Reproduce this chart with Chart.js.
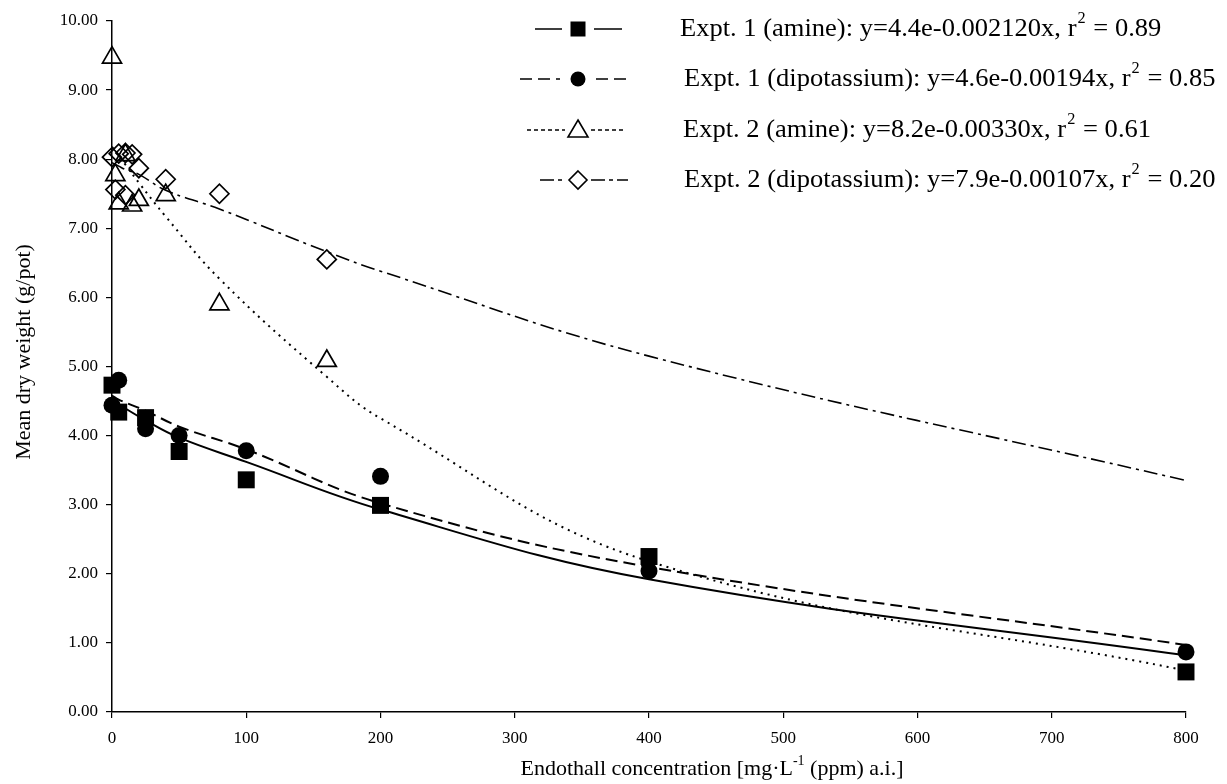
<!DOCTYPE html>
<html>
<head>
<meta charset="utf-8">
<script src="https://cdn.jsdelivr.net/npm/chart.js@4.4.1/dist/chart.umd.min.js"></script>
<style>
  html, body { margin: 0; padding: 0; background: #fff; }
  #wrap { width: 1227px; height: 784px; }
</style>
</head>
<body>
<div id="wrap"><canvas id="chart" width="1227" height="784"></canvas></div>
<script>
// measured points
var doses1 = [0, 5, 25, 50, 100, 200, 400, 800];
var amine1 = [4.73, 4.34, 4.26, 3.77, 3.36, 2.99, 2.25, 0.58];
var dipot1 = [4.44, 4.80, 4.10, 4.00, 3.78, 3.41, 2.04, 0.87];

var dosesAm2 = [0, 2.5, 5, 10, 15, 20, 40, 80, 160];
var amine2 = [9.47, 7.77, 7.36, 8.06, 7.33, 7.41, 7.48, 5.90, 5.08];
var dosesDi2 = [0, 2.5, 5, 10, 10, 15, 20, 40, 80, 160];
var dipot2 = [8.03, 7.56, 8.08, 8.09, 7.48, 8.07, 7.87, 7.71, 7.50, 6.55];

// fitted curves
var fitX1 = [0, 5, 25, 50, 100, 200, 400, 800];
var fitAmine1 = [4.50, 4.45, 4.22, 3.97, 3.62, 2.93, 1.92, 0.82];
var fitDipot1 = [4.58, 4.52, 4.36, 4.13, 3.80, 3.02, 2.10, 0.97];
var fitX2 = [0, 5, 10, 20, 40, 80, 160, 200, 400, 800];
var fitAmine2 = [8.18, 8.05, 7.92, 7.66, 7.17, 6.27, 4.85, 4.25, 2.18, 0.60];
var fitDipot2 = [7.95, 7.90, 7.85, 7.78, 7.55, 7.28, 6.66, 6.38, 5.15, 3.35];

var legendText = [
  'Expt. 1 (amine): y=4.4e-0.002120x, r',
  'Expt. 1 (dipotassium): y=4.6e-0.00194x, r',
  'Expt. 2 (amine): y=8.2e-0.00330x, r',
  'Expt. 2 (dipotassium): y=7.9e-0.00107x, r'
];
var legendR2 = ['0.89', '0.85', '0.61', '0.20'];

var serif = '"Liberation Serif", "Times New Roman", serif';

function pts(xs, ys) {
  var out = [];
  for (var i = 0; i < xs.length; i++) out.push({x: xs[i], y: ys[i]});
  return out;
}

function fitLine(xs, ys, dash, w) {
  return {
    data: pts(xs, ys), showLine: true, pointRadius: 0, pointHoverRadius: 0,
    borderColor: '#000', borderWidth: w, borderDash: dash, tension: 0.4, fill: false
  };
}

function marks(xs, ys, style, r, filled) {
  return {
    data: pts(xs, ys), showLine: false, pointStyle: style, pointRadius: r, pointHoverRadius: r,
    backgroundColor: filled ? '#000' : 'rgba(0,0,0,0)', borderColor: '#000',
    borderWidth: filled ? 0 : 1.7, clip: false
  };
}

// legend marker
function marker(ctx, style, x, y) {
  ctx.beginPath();
  ctx.lineWidth = 1.6;
  if (style == 'rect') {
    ctx.fillStyle = '#000';
    ctx.fillRect(x - 7.5, y - 7.5, 15, 15);
  } else if (style == 'circle') {
    ctx.fillStyle = '#000';
    ctx.arc(x, y, 7.5, 0, Math.PI * 2);
    ctx.fill();
  } else if (style == 'triangle') {
    ctx.moveTo(x, y - 10);
    ctx.lineTo(x + 10, y + 7);
    ctx.lineTo(x - 10, y + 7);
    ctx.closePath();
    ctx.stroke();
  } else {
    ctx.moveTo(x, y - 9);
    ctx.lineTo(x + 9, y);
    ctx.lineTo(x, y + 9);
    ctx.lineTo(x - 9, y);
    ctx.closePath();
    ctx.stroke();
  }
}

var overlay = {
  id: 'overlay',
  afterDraw: function(chart) {
    var ctx = chart.ctx;
    ctx.save();
    ctx.fillStyle = '#000';
    ctx.strokeStyle = '#000';

    // y title
    ctx.save();
    ctx.translate(24, 352);
    ctx.rotate(-Math.PI / 2);
    ctx.font = '22px ' + serif;
    ctx.textAlign = 'center';
    ctx.textBaseline = 'middle';
    ctx.fillText('Mean dry weight (g/pot)', 0, 0);
    ctx.restore();

    // x title with superscript
    ctx.font = '22px ' + serif;
    ctx.textBaseline = 'middle';
    ctx.textAlign = 'left';
    var a = 'Endothall concentration [mg\u00b7L', s = '-1', b = ' (ppm) a.i.]';
    var wa = ctx.measureText(a).width, wb = ctx.measureText(b).width;
    ctx.font = '14px ' + serif;
    var ws = ctx.measureText(s).width;
    var x0 = 712 - (wa + ws + wb) / 2, yT = 769;
    ctx.font = '22px ' + serif;
    ctx.fillText(a, x0, yT);
    ctx.font = '14px ' + serif;
    ctx.fillText(s, x0 + wa, yT - 8);
    ctx.font = '22px ' + serif;
    ctx.fillText(b, x0 + wa + ws, yT);

    // legend
    var rows = [29, 79, 130, 180];
    var styles = ['rect', 'circle', 'triangle', 'rectRot'];
    var dashes = [[], [12, 6], [4, 3], [14, 4, 4, 4]];
    var segs = [[535, 562, 594, 622], [520, 560, 596, 632], [527, 565, 591, 626], [540, 566, 591, 628]];
    var textX = [680, 684, 683, 684];
    for (var i = 0; i < 4; i++) {
      var y = rows[i];
      ctx.lineWidth = 1.5;
      ctx.setLineDash(dashes[i]);
      ctx.beginPath();
      ctx.moveTo(segs[i][0], y); ctx.lineTo(segs[i][1], y);
      ctx.moveTo(segs[i][2], y); ctx.lineTo(segs[i][3], y);
      ctx.stroke();
      ctx.setLineDash([]);
      marker(ctx, styles[i], 578, y);

      ctx.save();
      ctx.translate(textX[i], y);
      ctx.scale(1.02, 1);
      ctx.fillStyle = '#000';
      ctx.font = '26px ' + serif;
      ctx.textAlign = 'left';
      ctx.textBaseline = 'middle';
      var t = legendText[i];
      var wt = ctx.measureText(t).width;
      ctx.fillText(t, 0, 0);
      ctx.font = '16px ' + serif;
      ctx.fillText('2', wt + 1, -10);
      var w2 = ctx.measureText('2').width;
      ctx.font = '26px ' + serif;
      ctx.fillText(' = ' + legendR2[i], wt + w2 + 2, 0);
      ctx.restore();
    }
    ctx.restore();
  }
};

var ctx = document.getElementById('chart');
var chart = new Chart(ctx, {
  type: 'scatter',
  data: {
    datasets: [
      fitLine(fitX1, fitAmine1, [], 2),
      fitLine(fitX1, fitDipot1, [12, 6], 2),
      fitLine(fitX2, fitAmine2, [2, 5], 2),
      fitLine(fitX2, fitDipot2, [14, 5, 3, 5], 1.6),
      marks(doses1, amine1, 'rect', 12, true),
      marks(doses1, dipot1, 'circle', 8.5, true),
      marks(dosesAm2, amine2, 'triangle', 11, false),
      marks(dosesDi2, dipot2, 'rectRot', 9.5, false)
    ]
  },
  options: {
    responsive: false,
    animation: false,
    layout: { padding: { top: 21, right: 41, left: 0, bottom: 0 } },
    plugins: { legend: { display: false }, tooltip: { enabled: false } },
    scales: {
      x: {
        type: 'linear', min: 0, max: 800,
        afterFit: function(s) { s.height = 72; },
        ticks: { stepSize: 100, color: '#000', padding: 10, font: { family: serif, size: 17 } },
        grid: { drawOnChartArea: false, drawTicks: true, tickLength: 6, color: '#000', lineWidth: 1.2 },
        border: { color: '#000', width: 1.5 }
      },
      y: {
        min: 0, max: 10,
        afterFit: function(s) { s.width = 112; },
        ticks: { stepSize: 1, color: '#000', padding: 8, font: { family: serif, size: 17 },
          callback: function(v) { return v.toFixed(2); } },
        grid: { drawOnChartArea: false, drawTicks: true, tickLength: 6, color: '#000', lineWidth: 1.2 },
        border: { color: '#000', width: 1.5 }
      }
    }
  },
  plugins: [overlay]
});
</script>
</body>
</html>
